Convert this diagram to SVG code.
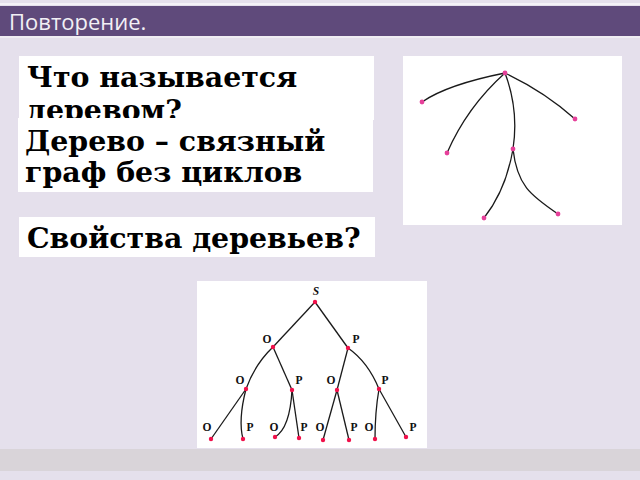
<svg xmlns="http://www.w3.org/2000/svg" width="640" height="480" viewBox="0 0 640 480">
<style>
.box{fill:#ffffff}
.q{font-family:"DejaVu Serif","Liberation Serif",serif;font-weight:bold;font-size:28.4px;fill:#000}
.edge{fill:none;stroke:#1a1a1a;stroke-width:1.3}
.n1{fill:#e6409a}
.n2{fill:#f0104a}
.lbl{font-family:"Liberation Serif",serif;font-weight:bold;font-size:11.5px;fill:#111;text-anchor:middle}
</style>
<rect x="0" y="0" width="640" height="480" fill="#e5e0ec"/>
<rect x="0" y="3" width="640" height="2" fill="#f4f2f7"/>
<rect x="0" y="6" width="640" height="30" fill="#5f4a7b"/>
<rect x="0" y="36" width="640" height="2" fill="#f0edf3"/>
<text x="9" y="30" font-family="'Open Sans','Noto Sans',sans-serif" font-size="22" fill="#f2f0f5">Повторение.</text>
<rect x="0" y="449" width="640" height="22" fill="#d9d4d9"/>

<g id="q1">
<rect class="box" x="19" y="56" width="355" height="64"/>
<text class="q" x="27" y="87">Что называется</text>
<text class="q" x="27" y="120">деревом?</text>
</g>
<g id="q2">
<rect class="box" x="18" y="118" width="355" height="74"/>
<text class="q" x="25" y="151">Дерево – связный</text>
<text class="q" x="25" y="182">граф без циклов</text>
</g>
<g id="q3">
<rect class="box" x="19" y="217" width="356" height="40"/>
<text class="q" x="27" y="248">Свойства деревьев?</text>
</g>

<g id="tree1">
<rect class="box" x="403" y="56" width="219" height="169"/>
<g id="tree1-edges">
<path class="edge" d="M505,73 C480,78 445,86 422,102"/>
<path class="edge" d="M505,73 Q467,107 447,153"/>
<path class="edge" d="M505,73 Q545,92 575,119"/>
<path class="edge" d="M505,73 Q519,110 513,149"/>
<path class="edge" d="M513,149 Q506,190 484,218"/>
<path class="edge" d="M513,149 C517,185 530,195 558,214"/>
</g>
<circle class="n1" cx="505" cy="73" r="2.4"/>
<circle class="n1" cx="422" cy="102" r="2.4"/>
<circle class="n1" cx="447" cy="153" r="2.4"/>
<circle class="n1" cx="575" cy="119" r="2.4"/>
<circle class="n1" cx="513" cy="149" r="2.4"/>
<circle class="n1" cx="484" cy="218" r="2.4"/>
<circle class="n1" cx="558" cy="214" r="2.4"/>
</g>

<g id="tree2">
<rect class="box" x="197" y="281" width="230" height="167"/>
<g id="tree2-edges">
<path class="edge" d="M315,302 L273,347"/>
<path class="edge" d="M315,302 L348,348"/>
<path class="edge" d="M273,347 Q255,364 246,389"/>
<path class="edge" d="M273,347 L292,390"/>
<path class="edge" d="M348,348 L337,390"/>
<path class="edge" d="M348,348 Q368,362 379,389"/>
<path class="edge" d="M246,389 L211,439"/>
<path class="edge" d="M246,389 Q238,420 243,439"/>
<path class="edge" d="M292,390 Q290,428 275,437"/>
<path class="edge" d="M292,390 L299,438"/>
<path class="edge" d="M337,390 L323,440"/>
<path class="edge" d="M337,390 L349,440"/>
<path class="edge" d="M379,389 Q375,412 375,439"/>
<path class="edge" d="M379,389 L406,437"/>
</g>
<circle class="n2" cx="315" cy="302" r="2.2"/>
<circle class="n2" cx="273" cy="347" r="2.2"/>
<circle class="n2" cx="348" cy="348" r="2.2"/>
<circle class="n2" cx="246" cy="389" r="2.2"/>
<circle class="n2" cx="292" cy="390" r="2.2"/>
<circle class="n2" cx="337" cy="390" r="2.2"/>
<circle class="n2" cx="379" cy="389" r="2.2"/>
<circle class="n2" cx="211" cy="439" r="2.2"/>
<circle class="n2" cx="243" cy="439" r="2.2"/>
<circle class="n2" cx="275" cy="437" r="2.2"/>
<circle class="n2" cx="299" cy="438" r="2.2"/>
<circle class="n2" cx="323" cy="440" r="2.2"/>
<circle class="n2" cx="349" cy="440" r="2.2"/>
<circle class="n2" cx="375" cy="439" r="2.2"/>
<circle class="n2" cx="406" cy="437" r="2.2"/>
<text class="lbl" x="316" y="295" font-style="italic" font-weight="normal" font-size="12.5">S</text>
<text class="lbl" x="267" y="343">O</text>
<text class="lbl" x="356" y="343">P</text>
<text class="lbl" x="240" y="384">O</text>
<text class="lbl" x="299" y="384">P</text>
<text class="lbl" x="331" y="384">O</text>
<text class="lbl" x="385" y="384">P</text>
<text class="lbl" x="207" y="431">O</text>
<text class="lbl" x="250" y="431">P</text>
<text class="lbl" x="274" y="431">O</text>
<text class="lbl" x="304" y="431">P</text>
<text class="lbl" x="320" y="431">O</text>
<text class="lbl" x="354" y="431">P</text>
<text class="lbl" x="369" y="431">O</text>
<text class="lbl" x="413" y="431">P</text>
</g>
</svg>
